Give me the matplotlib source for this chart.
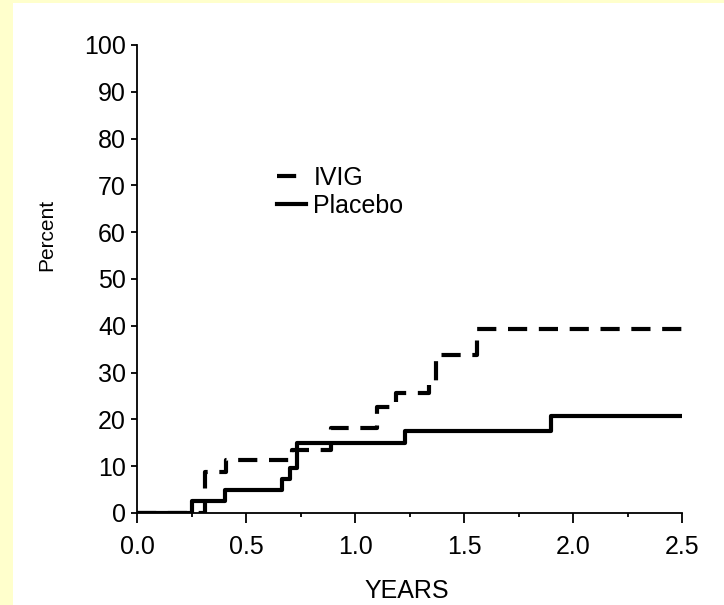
import matplotlib
matplotlib.use("Agg")
import matplotlib.pyplot as plt
from matplotlib.patches import Rectangle
from matplotlib.ticker import MultipleLocator

plt.rcParams['font.family'] = ['Liberation Sans', 'DejaVu Sans']

# Kaplan-Meier style step data
ivig_years = [0, 0.31, 0.41, 0.71, 0.89, 1.10, 1.19, 1.34, 1.37, 1.56, 2.5]
ivig_pct = [0, 8.8, 11.3, 13.5, 18.2, 22.7, 25.6, 28.2, 33.8, 39.3, 39.3]

placebo_years = [0, 0.25, 0.405, 0.665, 0.70, 0.735, 1.23, 1.90, 2.5]
placebo_pct = [0, 2.5, 4.9, 7.3, 9.7, 14.9, 17.6, 20.8, 20.8]

x_ticks = [0.0, 0.5, 1.0, 1.5, 2.0, 2.5]
y_ticks = list(range(0, 101, 10))

W, H = 724, 605
fig = plt.figure(figsize=(W / 100, H / 100), dpi=100)
fig.patch.set_facecolor('#ffffcc')
# white page inside the yellow frame
fig.patches.append(Rectangle((13 / W, 0), 1 - 13 / W, 1 - 3 / H,
                             transform=fig.transFigure, facecolor='white',
                             edgecolor='none', zorder=-5))

ax = fig.add_axes([137 / W, 1 - 513 / H, (682 - 137) / W, (513 - 45) / H])
ax.set_facecolor('none')

ax.step(ivig_years, ivig_pct, where='post', color='black', linewidth=3,
        dashes=(4.6, 2.8), label='IVIG')
ax.step(placebo_years, placebo_pct, where='post', color='black', linewidth=3,
        label='Placebo')

ax.set_xlim(0, 2.5)
ax.set_ylim(0, 100)
ax.set_xticks(x_ticks)
ax.set_xticklabels([f"{v:.1f}" for v in x_ticks])
ax.xaxis.set_minor_locator(MultipleLocator(0.25))
ax.set_yticks(y_ticks)

for side in ['top', 'right']:
    ax.spines[side].set_visible(False)
for side in ['left', 'bottom']:
    ax.spines[side].set_linewidth(1.3)

ax.tick_params(axis='x', which='major', length=7, width=1.3, labelsize=18, pad=9)
ax.tick_params(axis='x', which='minor', length=3, width=1.3)
ax.tick_params(axis='y', length=4, width=1.3, labelsize=18, pad=4)

fig.text(47 / W, 1 - 235 / H, 'Percent', rotation=90, fontsize=15,
         ha='center', va='center')
fig.text(407 / W, 1 - 591 / H, 'YEARS', fontsize=18, ha='center', va='center')

ax.legend(loc='upper left', bbox_to_anchor=(277 / W, 1 - 166 / H),
          bbox_transform=fig.transFigure, frameon=False, fontsize=18,
          handlelength=1.15, handletextpad=0.3, labelspacing=0.15,
          borderpad=0, borderaxespad=0)

fig.savefig('out.png', dpi=100)
